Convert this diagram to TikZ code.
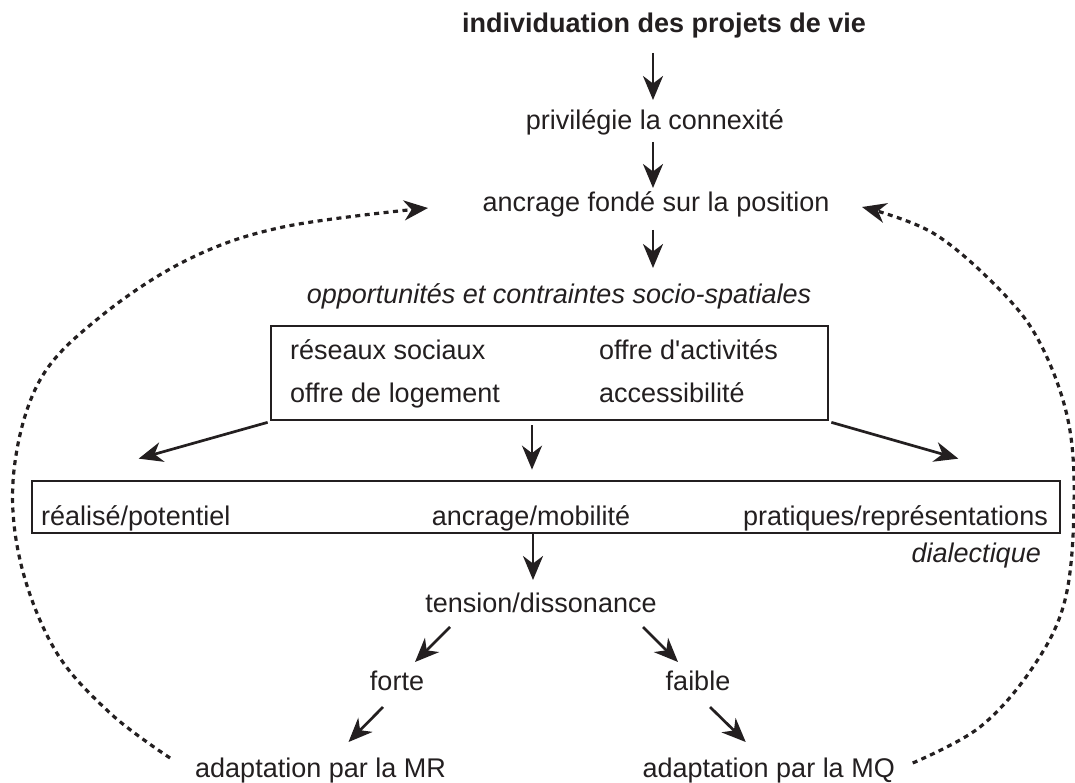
\documentclass[tikz,border=0pt]{standalone}
\usepackage{fontspec}
\setmainfont{Liberation Sans}
\usetikzlibrary{arrows.meta,calc}
\definecolor{ink}{HTML}{231F20}
\begin{document}
\begin{tikzpicture}[x=1pt,y=-1pt,
  lbl/.style={inner sep=0pt, anchor=base, text=ink, font=\fontsize{27}{32}\selectfont},
  arr/.style={draw=ink, line width=2.7pt, -{Stealth[length=24pt,width=20pt,inset=7.5pt]}},
  fbloop/.style={draw=ink, line width=3.2pt, dash pattern=on 5pt off 4.5pt, -{Stealth[length=24pt,width=20pt,inset=7.5pt]}},
  frame/.style={draw=ink, line width=2.7pt, rectangle, inner sep=0pt}]
\useasboundingbox (0,0) rectangle (1075,783);
% texts
\node[lbl, font=\bfseries\fontsize{27}{32}\selectfont] (title) at (664,33) {individuation des projets de vie};
\node[lbl] (priv) at (655,130) {privilégie la connexité};
\node[lbl] (anc) at (656,212) {ancrage fondé sur la position};
\node[lbl, font=\itshape\fontsize{27}{32}\selectfont] (opp) at (559,303) {opportunités et contraintes socio-spatiales};
\node[frame, minimum width=557pt, minimum height=94pt] (box1) at (549.5,373) {};
\node[lbl, anchor=base west] (res) at (290,359) {réseaux sociaux};
\node[lbl, anchor=base west] (act) at (599,359) {offre d\textquotesingle activités};
\node[lbl, anchor=base west] (log) at (290,402) {offre de logement};
\node[lbl, anchor=base west] (acc) at (599,402) {accessibilité};
\node[frame, minimum width=1028pt, minimum height=52pt] (box2) at (546,507) {};
\node[lbl, anchor=base west] (rp) at (41,525) {réalisé/potentiel};
\node[lbl] (am) at (531,525) {ancrage/mobilité};
\node[lbl, anchor=base east] (pr) at (1048,525) {pratiques/représentations};
\node[lbl, anchor=base east, font=\itshape\fontsize{27}{32}\selectfont] (dia) at (1041,562) {dialectique};
\node[lbl] (ten) at (541,612) {tension/dissonance};
\node[lbl] (forte) at (397,690) {forte};
\node[lbl] (faible) at (698,690) {faible};
\node[lbl, anchor=base west] (mr) at (195,777) {adaptation par la MR};
\node[lbl, anchor=base east] (mq) at (895,777) {adaptation par la MQ};
% solid arrows
\draw[arr] ([shift={(-11,20)}]title.base) -- ([shift={(-2,-30)}]priv.base);
\draw[arr] ([shift={(-2,12)}]priv.base) -- ([shift={(-3,-24)}]anc.base);
\draw[arr] ([shift={(-3,18)}]anc.base) -- ([shift={(94,-35)}]opp.base);
\draw[arr] ([shift={(-2,1)}]box1.south west) -- ([shift={(108,-21)}]box2.north west);
\draw[arr] ([shift={(-17.5,4)}]box1.south) -- ([shift={(-14,-10)}]box2.north);
\draw[arr] ([shift={(2,1)}]box1.south east) -- ([shift={(-103,-21)}]box2.north east);
\draw[arr] ([shift={(-13,0)}]box2.south) -- ([shift={(-8,-32)}]ten.base);
\draw[arr] ([shift={(-91,15)}]ten.base) -- ([shift={(18,-28)}]forte.base);
\draw[arr] ([shift={(-14,17)}]forte.base) -- ([shift={(28,-35)}]mr.base);
\draw[arr] ([shift={(102,15)}]ten.base) -- ([shift={(-20,-28)}]faible.base);
\draw[arr] ([shift={(12,17)}]faible.base) -- ([shift={(-23,-35)}]mq.base);
% feedback loops
\coordinate (ls) at ([shift={(-150.5,-19)}]mr.base);
\coordinate (le) at ([shift={(-228,-4)}]anc.base);
\coordinate (rs) at ([shift={(144,-14)}]mq.base);
\coordinate (re) at ([shift={(206,-5)}]anc.base);
\draw[fbloop] plot[smooth, tension=0.6] coordinates {(ls) (110,713) (55,650) (20,560) (14,470) (40,380) (100,317) (187,260) (283,227) (le)};
\draw[fbloop] plot[smooth, tension=0.6] coordinates {(rs) (980,727) (1033,667) (1065,600) (1074,505) (1068,420) (1040,343) (1000,290) (933,233) (re)};
\end{tikzpicture}
\end{document}
